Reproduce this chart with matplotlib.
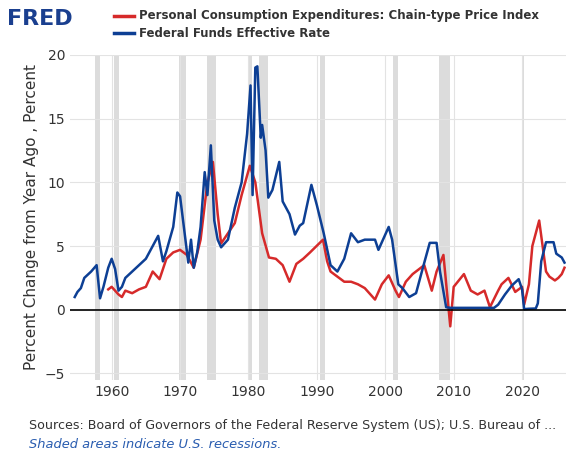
import matplotlib
matplotlib.use("Agg")
import matplotlib.pyplot as plt

ff_years = [1954.6,1955.0,1955.5,1956,1957,1957.8,1958.3,1958.8,1959.5,1960.0,1960.5,1961,1961.5,1962,1963,1964,1965,1966,1966.8,1967.5,1968,1969,1969.6,1970,1970.9,1971.2,1971.6,1972,1972.5,1973,1973.6,1974,1974.5,1975,1975.5,1976,1977,1978,1979,1979.8,1980.3,1980.6,1981.0,1981.3,1981.8,1982.0,1982.5,1982.9,1983.5,1984.5,1985,1986,1986.8,1987.5,1988,1989.2,1990,1991,1992,1993,1994,1995,1996,1997,1998.5,1999,2000.5,2001,2001.9,2002.5,2003.5,2004.5,2005.5,2006.5,2007.5,2008,2008.9,2009.5,2012,2015.9,2016.5,2017.5,2018.5,2019.5,2020.0,2020.3,2021,2022,2022.3,2022.8,2023.5,2024.6,2025,2025.8,2026.2]
ff_vals = [1.0,1.4,1.7,2.5,3.0,3.5,0.9,1.8,3.3,4.0,3.2,1.5,1.8,2.5,3.0,3.5,4.0,5.0,5.8,3.8,4.6,6.5,9.2,8.9,5.0,3.7,5.5,3.3,4.5,6.5,10.8,9.0,12.9,7.0,5.5,4.9,5.5,8.0,10.0,13.8,17.6,9.0,19.0,19.1,13.5,14.5,12.5,8.8,9.4,11.6,8.5,7.5,5.9,6.6,6.8,9.8,8.2,6.0,3.5,3.0,4.0,6.0,5.3,5.5,5.5,4.7,6.5,5.5,2.0,1.7,1.0,1.3,3.3,5.25,5.25,3.0,0.2,0.15,0.15,0.15,0.4,1.2,1.9,2.4,1.6,0.05,0.08,0.1,0.5,3.8,5.3,5.3,4.4,4.1,3.7]

pce_years = [1959.5,1960,1961,1961.5,1962,1963,1964,1965,1966,1967,1968,1969,1970,1971,1972,1973,1974,1974.8,1975.5,1976,1977,1978,1979,1980.2,1981,1982,1983,1984,1985,1986,1987,1988,1989,1990.9,1991.5,1992,1993,1994,1995,1996,1997,1998.5,1999.5,2000.5,2001.5,2002,2003,2004,2005.7,2006.8,2007.5,2008.5,2009.5,2010,2011.5,2012.5,2013.5,2014.5,2015.3,2016.5,2017,2018,2019,2020,2020.3,2021,2021.5,2022.5,2023,2023.5,2024,2024.8,2025.3,2025.8,2026.2]
pce_vals = [1.6,1.8,1.2,1.0,1.5,1.3,1.6,1.8,3.0,2.4,4.0,4.5,4.7,4.3,3.3,5.5,10.0,11.6,7.5,5.2,6.0,6.8,9.0,11.3,10.0,6.0,4.1,4.0,3.5,2.2,3.6,4.0,4.5,5.5,3.8,3.0,2.6,2.2,2.2,2.0,1.7,0.8,2.0,2.7,1.5,1.0,2.2,2.8,3.5,1.5,3.0,4.3,-1.3,1.8,2.8,1.5,1.2,1.5,0.2,1.5,2.0,2.5,1.4,1.8,0.4,2.0,5.0,7.0,5.0,3.0,2.6,2.3,2.5,2.8,3.3]

recessions = [(1957.6,1958.3),(1960.3,1961.1),(1969.9,1970.9),(1973.9,1975.2),(1980.0,1980.5),(1981.5,1982.9),(1990.5,1991.2),(2001.2,2001.9),(2007.9,2009.5),(2020.1,2020.3)]

red = "#d62a2a"
blue = "#0d3f94"

fig = plt.figure(figsize=(5.78, 4.61), dpi=100)
ax = fig.add_axes([0.121, 0.176, 0.858, 0.705])
for a, b in recessions:
    ax.axvspan(a, b, color="#dcdcdc", lw=0, zorder=0)
ax.plot(pce_years, pce_vals, color=red, lw=1.8, zorder=3)
ax.plot(ff_years, ff_vals, color=blue, lw=1.8, zorder=4)
ax.axhline(0, color="black", lw=1.2, zorder=5)
ax.set_xlim(1953.9, 2026.4)
ax.set_ylim(-5.5, 20)
ax.set_yticks([-5, 0, 5, 10, 15, 20])
ax.set_xticks([1960, 1970, 1980, 1990, 2000, 2010, 2020])
ax.grid(True, color="#e3e3e3", lw=0.8, zorder=1)
ax.set_axisbelow(True)
for s in ax.spines.values():
    s.set_visible(False)
ax.tick_params(length=0, labelsize=10, colors="#333333")
ax.set_ylabel("Percent Change from Year Ago , Percent", fontsize=11, color="#333333")

fig.text(0.012, 0.958, "FRED", fontsize=16, fontweight="bold", color="#1a3f8f", va="center")
fig.add_artist(plt.Line2D([0.197, 0.232], [0.966, 0.966], color=red, lw=2.5, transform=fig.transFigure))
fig.add_artist(plt.Line2D([0.197, 0.232], [0.928, 0.928], color=blue, lw=2.5, transform=fig.transFigure))
fig.text(0.24, 0.966, "Personal Consumption Expenditures: Chain-type Price Index", fontsize=8.5, fontweight="bold", color="#333333", va="center")
fig.text(0.24, 0.928, "Federal Funds Effective Rate", fontsize=8.5, fontweight="bold", color="#333333", va="center")
fig.text(0.05, 0.078, "Sources: Board of Governors of the Federal Reserve System (US); U.S. Bureau of ...", fontsize=9.1, color="#333333", va="center")
fig.text(0.05, 0.035, "Shaded areas indicate U.S. recessions.", fontsize=9.4, color="#2a5db0", style="italic", va="center")
fig.savefig("out.png", dpi=100, facecolor="white")
